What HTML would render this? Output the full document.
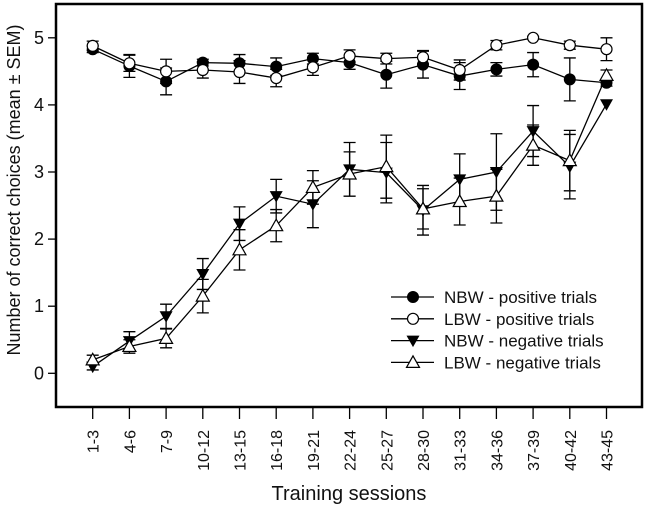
<!DOCTYPE html>
<html><head><meta charset="utf-8"><style>
body{margin:0;background:#fff}
svg{display:block;font-family:"Liberation Sans",Arial,sans-serif}
</style></head><body>
<svg id="chart" width="646" height="507" viewBox="0 0 646 507"></svg>
<script>
const categories=["1-3","4-6","7-9","10-12","13-15","16-18","19-21","22-24","25-27","28-30","31-33","34-36","37-39","40-42","43-45"];
const nbwPos=[4.83,4.58,4.35,4.63,4.62,4.57,4.69,4.63,4.45,4.6,4.43,4.53,4.6,4.38,4.33];
const nbwPosSem=[0.05,0.17,0.2,0.05,0.13,0.13,0.08,0.1,0.2,0.2,0.2,0.1,0.18,0.32,0.05];
const lbwPos=[4.88,4.62,4.5,4.52,4.49,4.4,4.56,4.73,4.69,4.71,4.52,4.89,5.0,4.89,4.83];
const lbwPosSem=[0.07,0.12,0.18,0.12,0.17,0.13,0.12,0.09,0.08,0.1,0.15,0.07,0.02,0.06,0.17];
const nbwNeg=[0.1,0.48,0.85,1.48,2.23,2.64,2.52,3.04,2.99,2.43,2.89,3.0,3.61,3.08,4.01];
const nbwNegSem=[0.05,0.14,0.18,0.23,0.25,0.25,0.35,0.4,0.45,0.37,0.38,0.57,0.38,0.48,0];
const lbwNeg=[0.2,0.4,0.52,1.15,1.84,2.2,2.77,2.97,3.08,2.45,2.56,2.64,3.4,3.17,4.44];
const lbwNegSem=[0.07,0.1,0.14,0.25,0.3,0.24,0.25,0.33,0.47,0.3,0.35,0.4,0.3,0.45,0.08];
const yTicks=[0,1,2,3,4,5];
const legendLabels=["NBW - positive trials","LBW - positive trials","NBW - negative trials","LBW - negative trials"];

const svg=document.getElementById('chart');
const NS='http://www.w3.org/2000/svg';
const x=i=>92.7+36.7*i;
const y=v=>373.3-67.1*v;
function mk(tag,attrs,parent){const e=document.createElementNS(NS,tag);for(const k in attrs)e.setAttribute(k,attrs[k]);(parent||svg).appendChild(e);return e;}

const frame=mk('rect',{x:56,y:4,width:586,height:403,fill:'none',stroke:'#000','stroke-width':2.5});



yTicks.forEach(t=>{
  const l=mk('line',{x1:48,x2:56,y1:y(t),y2:y(t),stroke:'#000','stroke-width':1.3});
  
  
  const tx=mk('text',{x:44,y:y(t)+6,'text-anchor':'end','font-size':18,fill:'#111'});
  tx.textContent=t;
  
  
});
categories.forEach((c,i)=>{
  const l=mk('line',{x1:x(i),x2:x(i),y1:407,y2:419,stroke:'#000','stroke-width':1.3});
  
  
  const tx=mk('text',{x:0,y:0,'text-anchor':'end','font-size':16,fill:'#111',transform:`translate(${x(i)+6},430) rotate(-90)`});
  tx.textContent=c;
  
  
});
const yt=mk('text',{x:0,y:0,'text-anchor':'middle','font-size':18,fill:'#111',transform:'translate(20,190) rotate(-90)'});
yt.textContent='Number of correct choices (mean ± SEM)';


const xt=mk('text',{x:349,y:500,'text-anchor':'middle','font-size':20,fill:'#111'});
xt.textContent='Training sessions';



function marker(kind,cx,cy,g){
  if(kind==='fc')return mk('circle',{cx,cy,r:5.5,fill:'#000',stroke:'#000'},g);
  if(kind==='oc')return mk('circle',{cx,cy,r:5.5,fill:'#fff',stroke:'#000','stroke-width':1.2},g);
  if(kind==='dt')return mk('polygon',{points:`${cx-6.5},${cy-5} ${cx+6.5},${cy-5} ${cx},${cy+6.5}`,fill:'#000'},g);
  return mk('polygon',{points:`${cx-6.5},${cy+5} ${cx+6.5},${cy+5} ${cx},${cy-6.5}`,fill:'#fff',stroke:'#000','stroke-width':1.2},g);
}
const series=[[nbwPos,nbwPosSem,'fc','nbw-positive'],[lbwPos,lbwPosSem,'oc','lbw-positive'],[nbwNeg,nbwNegSem,'dt','nbw-negative'],[lbwNeg,lbwNegSem,'ut','lbw-negative']];
series.forEach(([vals,sem,kind,name])=>{
  const g=mk('g',{});
  
  
  vals.forEach((v,i)=>{
    if(sem[i]>0){
      const e=mk('path',{d:`M${x(i)},${y(v-sem[i])}V${y(v+sem[i])}M${x(i)-6},${y(v-sem[i])}h12M${x(i)-6},${y(v+sem[i])}h12`,stroke:'#000','stroke-width':1.3,fill:'none'},g);
      
      
    }
  });
  const ln=mk('polyline',{points:vals.map((v,i)=>x(i)+','+y(v)).join(' '),fill:'none',stroke:'#000','stroke-width':1.3},g);
  
  
  vals.forEach((v,i)=>{
    const m=marker(kind,x(i),y(v),g);
    
    
  });
});
const lg=mk('g',{});


const kinds=['fc','oc','dt','ut'];
legendLabels.forEach((lab,i)=>{
  const cy=297+21.8*i;
  const l=mk('line',{x1:391,x2:434,y1:cy,y2:cy,stroke:'#000','stroke-width':1.3},lg);
  
  
  const m=marker(kinds[i],413,cy,lg);
  
  
  const t=mk('text',{x:444,y:cy+6,'font-size':17,fill:'#111'},lg);
  t.textContent=lab;
  
  
});
</script>
</body></html>
